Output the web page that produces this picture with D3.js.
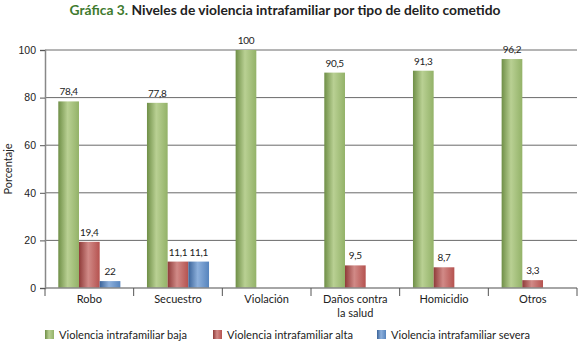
<!DOCTYPE html>
<html>
<head>
<meta charset="utf-8">
<script src="https://cdn.jsdelivr.net/npm/d3@7"></script>
<style>
  body { margin: 0; background: white; }
  svg { display: block; font-family: Lato, "Noto Sans", sans-serif; }
</style>
</head>
<body>
<svg id="chart" width="580" height="343"></svg>
<script>
// categories and series
const categories = ["Robo", "Secuestro", "Violación", "Daños contra\nla salud", "Homicidio", "Otros"];
const series = ["Violencia intrafamiliar baja", "Violencia intrafamiliar alta", "Violencia intrafamiliar severa"];
const baja = [78.4, 77.8, 100, 90.5, 91.3, 96.2];
const alta = [19.4, 11.1, null, 9.5, 8.7, 3.3];
const severa = [2.9, 11.1, null, null, null, null];
// labels as printed in the original
const bajaLabels = ["78,4", "77,8", "100", "90,5", "91,3", "96,2"];
const altaLabels = ["19,4", "11,1", "", "9,5", "8,7", "3,3"];
const severaLabels = ["22", "11,1", "", "", "", ""];
const yTicks = [0, 20, 40, 60, 80, 100];

const values = [baja, alta, severa];
const labels = [bajaLabels, altaLabels, severaLabels];

const svg = d3.select("#chart");
const plotLeft = 45, plotRight = 577, plotTop = 50, plotBottom = 288;

// gradients: darker edges, lighter centre
const colors = [
  { dark: "#6f8f47", mid: "#93b268", light: "#b9d093" },
  { dark: "#8f3b39", mid: "#b5524f", light: "#d18a87" },
  { dark: "#3a6399", mid: "#5684bd", light: "#8db0dc" }
];
const defs = svg.append("defs");
colors.forEach((c, i) => {
  const g = defs.append("linearGradient").attr("id", "grad" + i)
    .attr("x1", "0%").attr("x2", "100%").attr("y1", "0%").attr("y2", "0%");
  g.append("stop").attr("offset", "0%").attr("stop-color", c.dark);
  g.append("stop").attr("offset", "45%").attr("stop-color", c.light);
  g.append("stop").attr("offset", "100%").attr("stop-color", c.mid);
});

const x = d3.scaleBand().domain(d3.range(categories.length)).range([plotLeft, plotRight]).paddingInner(0).paddingOuter(0);
const y = d3.scaleLinear().domain([0, 100]).range([plotBottom, plotTop]);
const groupWidth = x.bandwidth() * 0.7;
const xs = d3.scaleBand().domain(d3.range(series.length)).range([0, groupWidth]);

// title
const title = svg.append("text").attr("x", 285).attr("y", 15).attr("text-anchor", "middle")
  .style("font-size", "13.8px").style("font-weight", "bold");
title.append("tspan").attr("fill", "#3f7a2e").text("Gráfica 3. ");
title.append("tspan").attr("fill", "#222").text("Niveles de violencia intrafamiliar por tipo de delito cometido");

// grid lines
svg.append("g").selectAll("line").data(yTicks.filter(d => d > 0)).join("line")
  .attr("x1", plotLeft).attr("x2", plotRight)
  .attr("y1", d => y(d)).attr("y2", d => y(d))
  .attr("stroke", "#444").attr("stroke-width", 0.8);

// y axis
const yAxis = svg.append("g").attr("transform", `translate(${plotLeft},0)`)
  .call(d3.axisLeft(y).tickValues(yTicks).tickSize(5).tickPadding(4));
yAxis.select(".domain").attr("stroke", "#888").attr("stroke-width", 1.5);
yAxis.selectAll(".tick line").attr("stroke", "#555");
yAxis.selectAll("text").style("font-size", "10.5px").attr("fill", "#222");

svg.append("text").attr("transform", `translate(12,${(plotTop + plotBottom) / 2}) rotate(-90)`)
  .attr("text-anchor", "middle").style("font-size", "11px").attr("fill", "#222").text("Porcentaje");

// bars
categories.forEach((cat, ci) => {
  const gx = x(ci) + (x.bandwidth() - groupWidth) / 2;
  values.forEach((arr, si) => {
    const v = arr[ci];
    if (v == null) return;
    svg.append("rect")
      .attr("x", gx + xs(si)).attr("width", xs.bandwidth())
      .attr("y", y(v)).attr("height", y(0) - y(v))
      .attr("fill", `url(#grad${si})`);
    svg.append("text")
      .attr("x", gx + xs(si) + xs.bandwidth() / 2).attr("y", y(v) - 6)
      .attr("text-anchor", "middle").style("font-size", "10px").style("letter-spacing", "-0.3px")
      .attr("fill", "#222")
      .text(labels[si][ci]);
  });
});

// x axis
const xAxis = svg.append("g").attr("transform", `translate(0,${plotBottom})`);
xAxis.append("line").attr("x1", plotLeft).attr("x2", plotRight).attr("stroke", "#888").attr("stroke-width", 1.5);
xAxis.selectAll(".sep").data(d3.range(categories.length + 1)).join("line")
  .attr("x1", d => plotLeft + d * x.bandwidth()).attr("x2", d => plotLeft + d * x.bandwidth())
  .attr("y1", 0).attr("y2", 8).attr("stroke", "#555");
categories.forEach((cat, ci) => {
  const t = xAxis.append("text").attr("x", x(ci) + x.bandwidth() / 2).attr("y", 15)
    .attr("text-anchor", "middle").style("font-size", "11px").attr("fill", "#222");
  cat.split("\n").forEach((line, li) => {
    t.append("tspan").attr("x", x(ci) + x.bandwidth() / 2).attr("dy", li === 0 ? 0 : 14).text(line);
  });
});

// legend (narrow face in the original, so squeeze to its widths)
const legendX = [45, 213, 377];
const legendTextWidth = [128, 126, 139];
series.forEach((s, i) => {
  const g = svg.append("g").attr("transform", `translate(${legendX[i]},330)`);
  g.append("rect").attr("width", 9).attr("height", 9).attr("fill", `url(#grad${i})`);
  g.append("text").attr("x", 14).attr("y", 8.5).style("font-size", "11px")
    .attr("textLength", legendTextWidth[i]).attr("lengthAdjust", "spacingAndGlyphs")
    .attr("fill", "#222").text(s);
});
</script>
</body>
</html>
